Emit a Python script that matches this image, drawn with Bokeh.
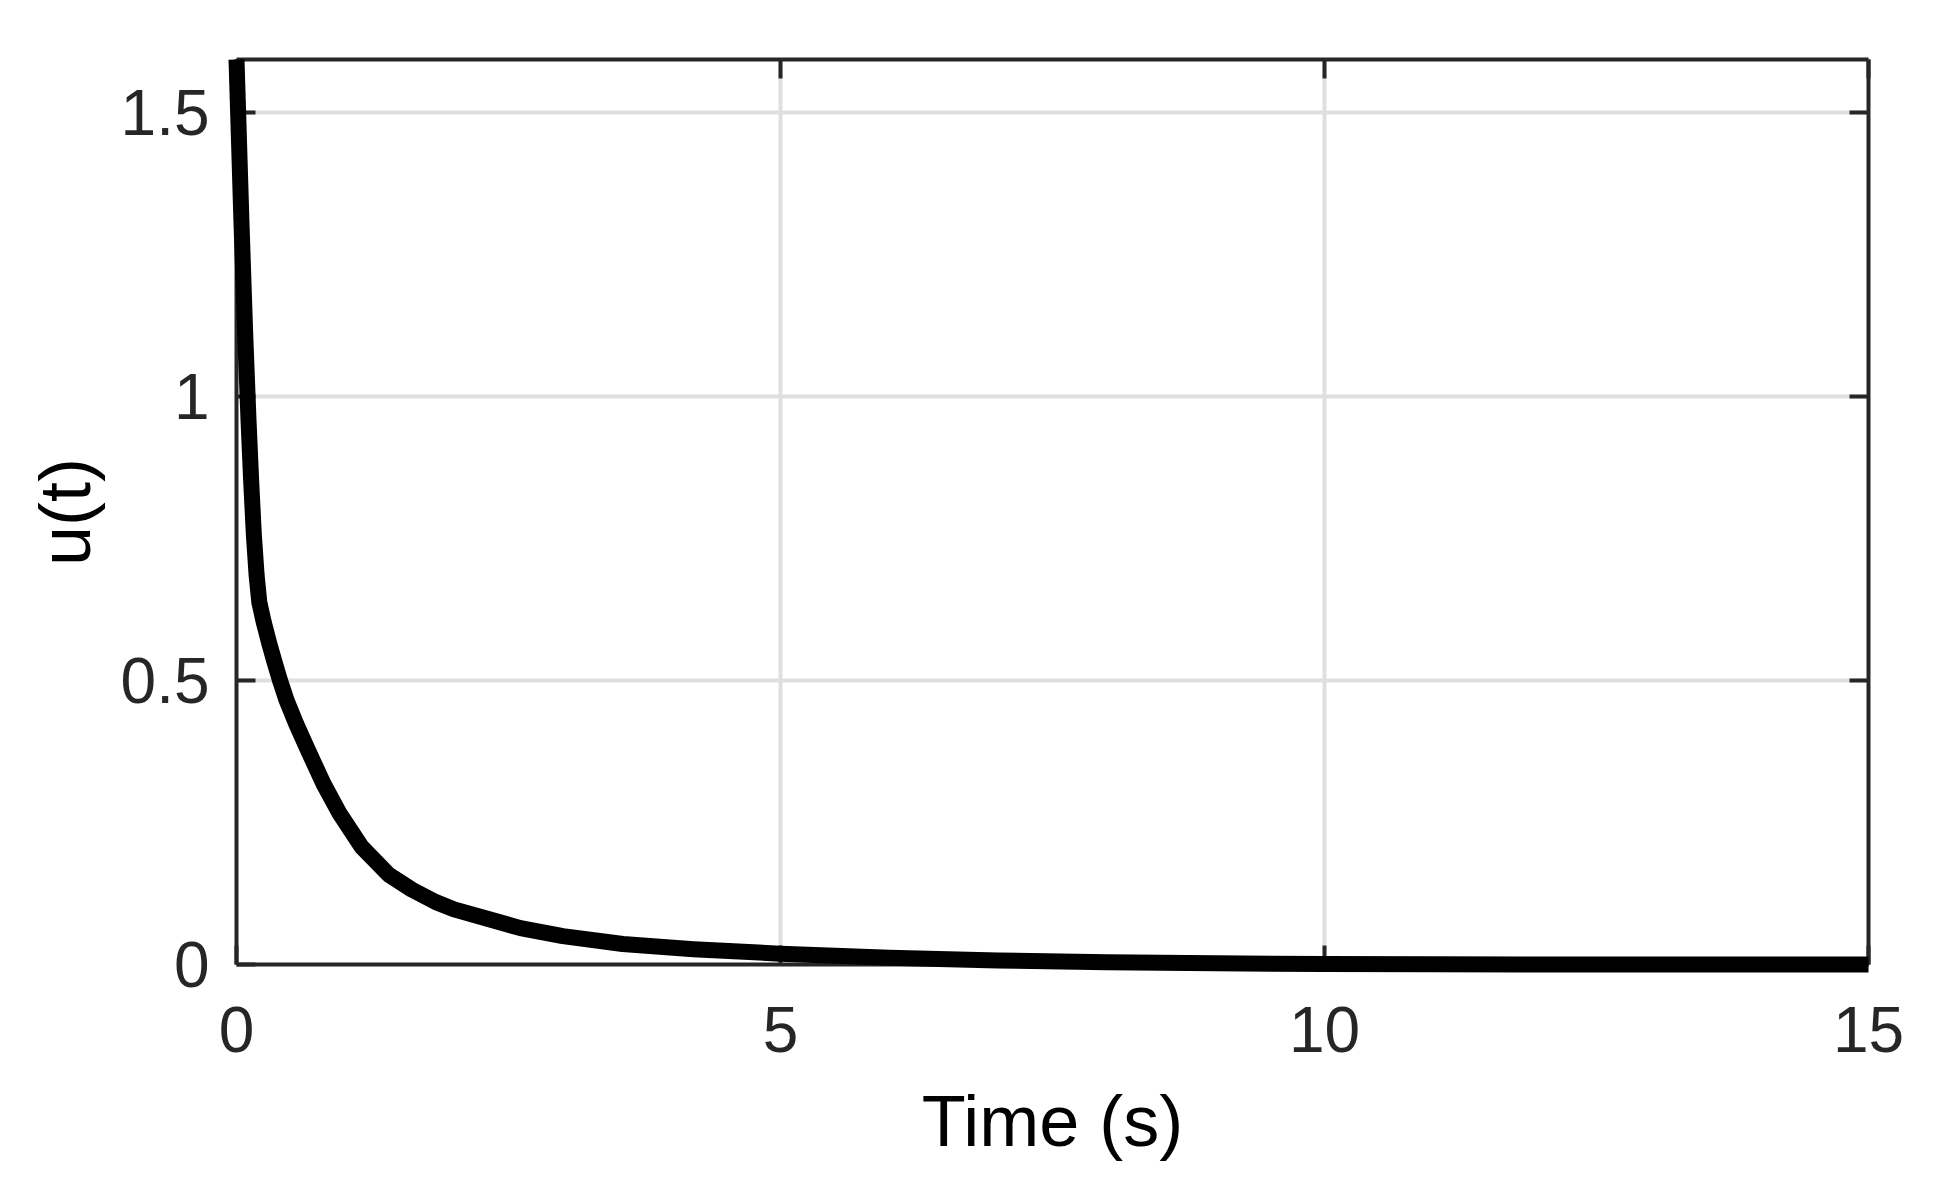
from bokeh.plotting import figure
from bokeh.models import LinearAxis, Range1d, FixedTicker
from bokeh.embed import file_html
from bokeh.resources import INLINE

# ---- data ----
time_s = [0.0, 0.015, 0.045, 0.08, 0.11, 0.135, 0.16, 0.185, 0.21,
          0.25, 0.30, 0.35, 0.40, 0.46, 0.55, 0.65, 0.80, 0.95, 1.15,
          1.40, 1.61, 1.83, 2.0, 2.61, 3.0, 3.55, 4.2, 5.0, 6.0, 7.0, 8.0,
          9.0, 10.0, 11.0, 12.0, 13.0, 14.0, 15.0]
u_t = [1.593, 1.50, 1.31, 1.11, 0.96, 0.85, 0.755, 0.685, 0.637,
       0.603, 0.566, 0.532, 0.500, 0.465, 0.423, 0.380, 0.318, 0.265, 0.207,
       0.158, 0.132, 0.110, 0.097, 0.064, 0.050, 0.036, 0.027, 0.019, 0.012, 0.007, 0.004,
       0.002, 0.001, 0.0005, 0.0, 0.0, 0.0, 0.0]

x_ticks = [0, 5, 10, 15]
x_tick_labels = ["0", "5", "10", "15"]
y_ticks = [0, 0.5, 1, 1.5]
y_tick_labels = ["0", "0.5", "1", "1.5"]
x_label = "Time (s)"
y_label = "u(t)"

FRAME = "#262626"
FONT = "Liberation Sans"

p = figure(width=1938, height=1182,
           x_range=Range1d(0, 15), y_range=Range1d(0, 1.593),
           output_backend="svg", toolbar_location=None,
           min_border_left=236, min_border_right=70,
           min_border_top=59, min_border_bottom=218)

p.outline_line_color = None
p.background_fill_color = "white"
p.border_fill_color = "white"

p.xaxis.ticker = FixedTicker(ticks=x_ticks)
p.yaxis.ticker = FixedTicker(ticks=y_ticks)
p.xaxis.major_label_overrides = dict(zip(x_ticks, x_tick_labels))
p.yaxis.major_label_overrides = dict(zip(y_ticks, y_tick_labels))

for ax in (p.xaxis[0], p.yaxis[0]):
    ax.axis_line_color = FRAME
    ax.axis_line_width = 4
    ax.major_tick_line_color = FRAME
    ax.major_tick_line_width = 4
    ax.major_tick_in = 19
    ax.major_tick_out = 0
    ax.minor_tick_line_color = None
    ax.major_label_text_font = FONT
    ax.major_label_text_font_size = "64px"
    ax.major_label_text_color = FRAME
    ax.axis_label_text_font = FONT
    ax.axis_label_text_font_size = "72px"
    ax.axis_label_text_font_style = "normal"
    ax.axis_label_text_color = "black"

p.xaxis.axis_label = x_label
p.yaxis.axis_label = y_label
p.xaxis.major_label_standoff = 42
p.yaxis.major_label_standoff = 27
p.xaxis.axis_label_standoff = 26
p.yaxis.axis_label_standoff = 13

# mirrored axes (top / right) with ticks only
for loc, ticks in (("above", x_ticks), ("right", y_ticks)):
    ax = LinearAxis(ticker=FixedTicker(ticks=ticks))
    ax.axis_line_color = FRAME
    ax.axis_line_width = 4
    ax.major_tick_line_color = FRAME
    ax.major_tick_line_width = 4
    ax.major_tick_in = 19
    ax.major_tick_out = 0
    ax.minor_tick_line_color = None
    ax.major_label_text_font_size = "0px"
    ax.major_label_text_alpha = 0
    ax.major_label_standoff = 0
    p.add_layout(ax, loc)

p.xgrid.grid_line_color = "#dfdfdf"
p.ygrid.grid_line_color = "#dfdfdf"
p.xgrid.grid_line_width = 4
p.ygrid.grid_line_width = 4

p.line(time_s, u_t, line_color="black", line_width=16,
       line_join="round", line_cap="butt", level="overlay")

open("out.html", "w").write(file_html(p, INLINE))
